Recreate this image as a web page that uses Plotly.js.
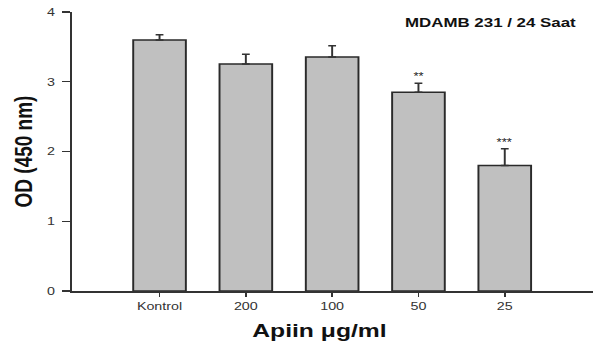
<!DOCTYPE html>
<html>
<head>
<meta charset="utf-8">
<script src="https://cdn.plot.ly/plotly-3.0.1.min.js"></script>
<style>
  html, body { margin: 0; padding: 0; background: #fff; overflow: hidden; }
  #wrap { width: 598px; height: 345px; overflow: hidden; }
  #chart { width: 460px; height: 345px; transform: scaleX(1.3); transform-origin: 0 0; }
</style>
</head>
<body>
<div id="wrap"><div id="chart"></div></div>
<script>
const categories = ['Kontrol', '200', '100', '50', '25'];
const odValues = [3.60, 3.255, 3.355, 2.85, 1.80];
const odErrors = [0.075, 0.14, 0.16, 0.13, 0.24];
const significance = ['', '', '', '**', '***'];
const yTickValues = [0, 1, 2, 3, 4];

const font = 'Liberation Sans, Arial, sans-serif';

const trace = {
  type: 'bar',
  x: categories,
  y: odValues,
  width: 0.61,
  marker: { color: '#c0c0c0', line: { color: '#2a2a2a', width: 1.5 } },
  error_y: {
    type: 'data', symmetric: false, array: odErrors,
    arrayminus: odErrors.map(() => 0),
    color: '#333', thickness: 1.5, width: 3
  },
  hoverinfo: 'none'
};

const annotations = [];
categories.forEach((c, i) => {
  if (!significance[i]) return;
  annotations.push({
    x: i, y: odValues[i] + odErrors[i], xref: 'x', yref: 'y',
    text: significance[i], showarrow: false, yanchor: 'bottom', yshift: -1,
    font: { family: font, size: 10, color: '#222' }
  });
});
annotations.push({
  text: '<b>Apiin μg/ml</b>', xref: 'paper', yref: 'paper',
  x: 0.476, y: -0.143, xanchor: 'center', yanchor: 'middle', showarrow: false,
  font: { family: font, size: 19, color: '#111' }
});

const layout = {
  width: 460, height: 345,
  margin: { l: 55, r: 4, t: 12, b: 54 },
  paper_bgcolor: '#fff', plot_bgcolor: '#fff',
  showlegend: false,
  title: {
    text: '<b>MDAMB 231 / 24 Saat</b>',
    xref: 'container', yref: 'container', x: 0.82, y: 0.936,
    xanchor: 'center', yanchor: 'middle',
    font: { family: font, size: 13, color: '#111' }
  },
  xaxis: {
    type: 'category', range: [-1.02, 5.02],
    showline: true, linecolor: '#333', linewidth: 1.5,
    ticks: 'outside', ticklen: 4, tickcolor: '#333', tickwidth: 1.2,
    showgrid: false, zeroline: false,
    tickfont: { family: font, size: 11, color: '#333' }
  },
  yaxis: {
    range: [0, 4], tickvals: yTickValues,
    showline: true, linecolor: '#333', linewidth: 1.5,
    ticks: 'outside', ticklen: 6, tickcolor: '#333', tickwidth: 1.2,
    showgrid: false, zeroline: false,
    tickfont: { family: font, size: 11, color: '#333' },
    ticklabelstandoff: 3,
    title: { text: '<b>OD (450 nm)</b>', standoff: 6, font: { family: font, size: 19, color: '#111' } }
  },
  annotations: annotations
};

Plotly.newPlot('chart', [trace], layout, { displayModeBar: false, staticPlot: true });
</script>
</body>
</html>
